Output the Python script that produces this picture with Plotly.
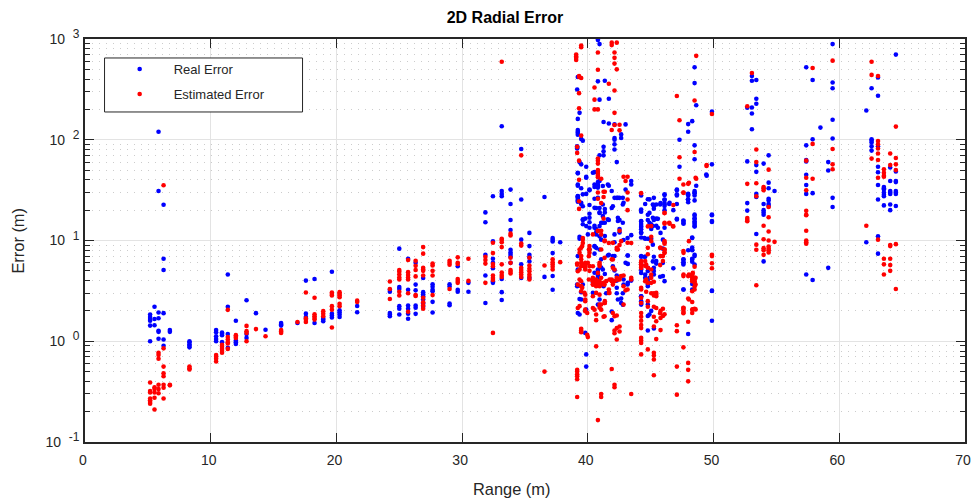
import plotly.graph_objects as go

real_ranges = [5.18, 5.53, 5.85, 6.25, 6.75, 8.31, 10.43, 10.9, 11.36, 12.0, 12.85, 13.6, 14.36, 15.6, 16.9, 17.57, 18.26, 18.95, 19.64, 20.25, 21.65,
               24.25, 25.0, 25.7, 26.3, 26.9, 27.65, 29.0, 29.65, 30.5, 31.85, 32.45, 33.15, 33.85, 34.7, 35.35, 36.55, 37.2, 37.8]
real_errors = [
    [1.84, 1.74, 1.66, 1.6, 1.43, 1.0], [2.2, 1.66, 1.44], [120, 31, 1.93, 1.69, 1.27, 1.24, 1.06], [22.6, 6.6, 5.1, 1.9, 1.04, 0.9],
    [1.29, 1.24], [1.0, 0.97, 0.93, 0.9, 0.87], [1.29, 1.23, 1.12, 1.05, 1.0], [1.22, 1.19, 1.15, 0.98], [4.6, 2.2, 1.18, 0.86],
    [1.6, 1.02, 0.98, 0.94], [2.55, 1.18, 1.08], [1.9], [1.3], [1.52, 1.47, 1.43], [1.52], [4.0, 1.88, 1.74], [4.15, 1.52],
    [1.7, 1.64, 1.58], [4.9, 1.88, 1.8, 1.72], [2.03, 1.94, 1.84, 1.74], [2.24, 1.94],
    [3.25, 3.1, 1.91, 1.84, 1.77], [8.3, 3.46, 3.3, 2.23, 2.1, 1.84], [6.6, 3.25, 2.26, 2.1, 1.88, 1.67], [6.0, 3.65, 3.2, 2.26, 2.15, 1.87],
    [4.25, 3.07, 2.93, 2.8, 2.6, 2.37, 2.2], [3.68, 3.47, 3.25, 3.14, 2.46, 1.93], [3.68, 3.5, 2.37, 2.28], [5.55, 3.25, 3.1], [3.8, 3.1],
    [19, 15.2, 7.2, 4.5, 2.4], [27.5, 9.8, 6.6, 6.0, 5.3, 3.95, 3.8], [136, 31, 29, 27.5, 4.15, 3.07, 2.57], [32, 23, 16, 12.7, 8.1, 7.6, 7.25, 6.9, 6.0],
    [81, 25.5, 10.2, 5.8, 4.25], [11.9, 8.8, 7.2, 6.8, 6.2, 4.25], [27, 4.35], [10.6, 10.2, 9.8, 7.5, 4.45, 3.25], [9.6],
]
real_ranges_b = [39.15, 39.2, 39.34, 39.47, 39.6, 39.79, 39.87, 40.0, 40.13, 40.4, 40.53, 40.66, 40.8, 40.93, 41.06, 41.25, 41.35, 41.46, 41.67, 41.9, 42.12, 42.3, 42.52, 42.65, 42.84, 43.0, 43.16, 43.45]
real_errors_b = [
    [315, 86, 84, 82, 3.66, 3.52], [420, 161, 125, 120, 117, 112, 47, 36, 35, 27.5, 26.8, 26, 25, 24.3, 5.16], [185, 60, 10.9, 10.4, 2.63, 1.84],
    [102, 57, 33, 23, 3.07], [98, 3.66, 16, 14.5], [16.5, 1.21], [54, 42, 29, 0.74, 0.56], [11.5], [32, 22.5, 18.4, 15.2],
    [47, 4.1, 3.02, 3.8], [34, 26, 14, 8.7, 7.4, 4.78], [21, 13, 12, 11.5, 8.45], [980, 380, 38, 36, 35, 33.5, 26.5, 5.16, 4.97, 4.78, 4.6, 4.43, 4.26, 2.31],
    [890, 250, 70, 21, 19, 11, 2.6, 8.15], [15, 10.2, 6.5, 5.4], [150, 85, 77, 70, 3.52], [385, 20.5, 19, 15, 11.1, 4.65], [3.0],
    [255, 145, 35, 16, 7.2], [31, 21, 1.97, 1.62], [142, 104, 100, 90, 80, 26.5, 5.05, 9.6, 7.0, 11.5], [60, 26.5, 4.0, 3.0, 3.4, 4.5], [26.5, 16, 12, 13],
    [113, 104, 2.65, 2.4], [23.7, 10.1, 3.66, 4.1], [142, 32, 6.0], [7.1, 3.66, 10.6], [39, 36, 11.3, 4.0],
]
real_ranges_c = [44.24, 44.56, 44.77, 45.04, 45.25, 45.44, 45.78, 45.97, 46.1, 46.47, 46.8, 47.08, 47.29, 47.6, 47.98, 48.3, 48.49, 48.62,
                 49.45, 49.87, 52.68, 53.05, 53.4, 53.98, 54.38, 54.85, 57.37, 57.88, 58.5, 59.12, 59.47, 62.15, 62.57, 63.08, 63.55, 64.05, 64.5]
real_errors_c = [
    [28, 19.3, 15.4, 14.6, 13.6, 12, 10.7, 6.9, 5.16, 5.78, 2.8, 2.5, 2.31], [23, 10.4, 6.9, 4.6, 4.26], [25.7, 18, 16, 10.4, 4.97, 5.36, 3.95, 3.66, 3.52, 2.31, 1.78, 1.28],
    [14.5, 13, 10.4, 2.0], [26.5, 22.5, 22, 20.7, 16, 6.9, 5.36, 4.97, 4.6, 1.34], [22.8, 16.5, 14, 6.25, 5.9], [23.5, 11.9], [10.2, 8.3, 6.0, 4.43], [28.3, 25.4, 23.5, 22, 20, 3.95],
    [23], [20, 5.3], [31.6, 28, 23, 16.2], [100, 54], [15.8, 14.9, 6.5, 6.1, 5.78, 3.26], [143, 120, 29, 28, 25.7, 24, 8, 1.18], [153, 10.7, 8.5, 8, 6.6, 6.15, 3.7],
    [365, 525, 88, 64, 31, 29.5, 25, 17.6, 16.5, 15.5, 14.6, 13.8, 7.2], [220, 35],
    [44], [190, 57, 17.8, 15.3, 3.15, 1.6], [208, 61, 23.5, 19.8], [430, 385, 209, 182, 127], [392, 255, 228, 56, 48, 29, 27, 11.6], [58, 23, 20, 19, 18, 6.2],
    [70, 37.5, 33, 26, 25, 23, 22], [31], [525, 88, 63, 61, 45, 35.5, 29, 4.6], [392, 101, 29.5, 4.05], [132], [60, 49.5, 5.35],
    [890, 370, 325, 158, 103, 26.5, 21.5], [195, 9.6], [325, 101, 98, 94, 86, 78], [415, 273, 86, 54, 47.5, 35.5, 25.5, 11, 7.4],
    [34, 33, 32, 30, 28.5, 27.5, 22.3], [53, 39, 31, 30, 29, 22.8, 20], [700, 48.5, 39, 38, 31, 30, 29, 22],
]
real_ranges_d = [39.2, 39.47, 39.6, 39.87, 40.13, 40.53, 40.93, 41.19, 41.59, 41.99, 42.39, 42.78, 43.18, 44.24, 44.5, 44.9, 45.17, 45.57, 45.75, 46.1, 46.5, 47.08, 47.61, 47.96, 48.3, 48.49, 49.42, 49.87]
real_errors_d = [
    [46.4, 27.6, 7, 1.91], [23.7, 2.6], [28.7, 16.2, 21.9], [42.8, 13.9, 2.06], [31.6, 16.8, 13.4, 8.14], [47.7, 35.9, 21.1, 8.8, 13.4], [38.9, 18.8, 13.9],
    [34.7, 22.8, 17.5, 15, 5.15, 3.65], [35.9, 16.2, 7.1], [21.9, 7, 5.56], [26.5, 15.6, 16.8, 2.6], [26.5, 22.8, 15, 2.3, 3], [7.1, 5.86, 3.8],
    [20.3, 15.6, 13.9, 12.9, 11.9, 7, 4.77, 2.8, 2.4], [10.6, 6.9], [25.6, 18.8, 10.4, 4.26, 1.84, 15], [22.8, 16.8, 9.1, 6.2, 13.9], [13.4, 16.4], [22.8, 4.36],
    [28.7, 25.5, 22.8, 13.4], [23.7], [32, 28.7, 16.4], [15.6, 14.7, 6.47, 6, 3.26], [28.7, 25.5], [10.6, 8.14, 6.47, 3.26], [30, 28, 18.1, 16.4, 15, 13.9, 7, 5.77], [45.2], [18.1, 15.6, 3.18],
]

est_ranges = [5.18, 5.53, 5.85, 6.25, 6.75, 8.31, 10.43, 10.9, 11.36, 12.0, 12.85, 13.6, 14.36, 15.6, 16.9, 17.57, 18.26, 18.95, 19.64, 20.25, 21.65,
              24.25, 25.0, 25.7, 26.3, 26.9, 27.65, 29.0, 29.65, 30.5, 31.85, 32.45, 33.15, 33.85, 34.7, 35.35, 36.55, 37.2, 37.8]
est_errors = [
    [0.39, 0.32, 0.31, 0.27, 0.26, 0.25, 0.24], [0.35, 0.335, 0.31, 0.275, 0.21], [0.77, 0.73, 0.67, 0.37, 0.335, 0.305], [35.4, 0.85, 0.56, 0.48, 0.45, 0.37, 0.345, 0.27],
    [0.37, 0.365], [0.56, 0.54, 0.525], [0.73, 0.70, 0.67, 0.63], [0.92, 0.88, 0.84, 0.8, 0.77], [2.05, 1.1, 1.04, 0.98, 0.95, 0.84],
    [1.15, 1.11, 1.08], [1.42, 1.26, 1.21, 1.0], [1.32], [1.12], [1.29, 1.25, 1.21], [1.55], [3.05, 1.69, 1.63, 1.55], [2.7, 1.85, 1.77, 1.7, 1.64],
    [1.99, 1.88, 1.77], [3.05, 2.95, 2.85, 2.23, 2.06, 1.37], [3.07, 2.95, 2.85, 2.74, 2.35, 2.23], [2.53, 2.45],
    [3.92, 3.3, 2.63], [5.1, 4.9, 4.6, 4.3, 4.1, 3.1, 2.85], [6.4, 4.85, 4.55, 4.3, 4.1, 3.0, 1.96], [6.3, 5.6, 5.1, 4.4, 2.88, 2.82],
    [8.6, 7.4, 5.35, 5.15, 5.0, 4.5, 2.7, 2.44, 2.26, 2.1], [5.9, 5.65, 5.0, 4.5, 2.87], [6.3, 6.0, 5.75, 3.3], [6.8, 6.0, 5.85, 4.15, 3.97, 3.8], [6.6, 3.97],
    [6.9, 6.4, 5.9, 3.8], [9.5, 7.5, 5.85, 5.55, 4.5, 4.25, 4.05, 1.21], [595, 10.4, 10.1, 9.6, 8.6, 5.8, 4.8, 4.55, 4.35], [11.7, 11.2, 6.75, 6.0, 5.1, 4.9, 4.7],
    [70, 9.35, 8.9, 5.35, 5.1, 4.85, 4.6, 4.35], [6.75, 5.65, 5.25, 4.95, 4.6, 4.35, 4.1], [5.65, 0.5], [6.5, 6.1, 5.8, 5.5, 5.15], [6.1],
]
est_ranges_b = [39.07, 39.15, 39.3, 39.34, 39.47, 39.55, 39.6, 39.79, 39.95, 40.0, 40.13, 40.4, 40.53, 40.66, 40.8, 40.93, 41.06, 41.25, 41.35, 41.46, 41.67, 41.9, 42.12, 42.3, 42.52, 42.65, 42.84, 43.0, 43.16, 43.45]
est_errors_b = [
    [700, 670, 650, 620], [5.9, 5.75, 0.52, 0.5, 0.47, 0.45, 0.42, 0.28, 85, 74], [430, 420, 290, 205, 62, 40, 24.5, 20.6], [8.15, 7.55, 5.16, 4.1, 2.23], [860, 830, 410, 110, 7.0, 6.5, 3.52, 3.14, 1.33, 1.28, 1.23],
    [8.8, 3.39], [10.6, 10.2, 9.45], [6.0, 5.78, 5.57, 5.36, 5.16, 2.9, 2.6, 2.5, 2.06, 1.99], [1.91, 1.16], [6.0, 1.1], [5.57, 8.8, 8.15, 7.55, 5.0],
    [11.5, 4.26, 3.95, 3.66], [330, 250, 200, 2.06], [4.1, 3.95, 3.8, 3.66, 3.52, 3.02, 1.84, 1.62, 0.89], [735, 495, 200, 65, 62, 58, 50, 48, 46, 44, 42.5, 30, 26, 12.5, 0.165],
    [6.0, 5.78, 5.57, 3.95, 3.8, 3.66, 3.52, 2.9, 2.31, 2.15], [41, 23.5, 12.5, 2.06, 0.3, 0.28], [30.5, 27, 16.5, 3.8, 3.66, 1.75], [30.5, 10, 2.4, 2.5], [3.95], [360, 9.45, 3.26, 3.02],
    [920, 870, 125, 4.1, 3.95, 6.5, 0.53], [735, 650, 570, 308, 185, 140, 5.16, 3.95, 1.77, 1.2, 1.28, 0.37, 0.35], [920, 500, 8.15, 8.45, 4.26, 4.1, 1.8, 1.35, 1.04], [141, 124, 4.1, 1.4, 1.25, 9, 12.5],
    [4.43], [43, 3.52, 2.31, 4.5], [39, 3.2], [43, 30, 25.5, 20, 9.5, 3.26], [0.3, 9.45, 4.26],
]
est_ranges_c = [44.24, 44.56, 44.77, 45.04, 45.25, 45.44, 45.78, 45.97, 46.1, 46.47, 46.8, 47.08, 47.29, 47.6, 47.98, 48.3, 48.49, 48.62, 49.44,
                49.45, 49.87, 52.68, 53.05, 53.4, 53.98, 54.38, 54.85, 57.37, 57.88, 59.47, 62.15, 62.57, 63.08, 63.55, 64.05, 64.5]
est_errors_c = [
    [29.5, 6.25, 6, 5.78, 5.57, 5.36, 3.4, 2.7, 1.75, 1.6, 1.45, 1.35, 1.08, 1.02, 0.96, 0.74], [6.25, 5.6, 3.95], [13.8, 8.45, 7.3, 5.36, 3.8, 2.5, 2.2, 0.83], [3.8, 3.0, 10.9, 9.85],
    [3.0, 2.85, 2.2, 1.75, 3.9, 0.77, 0.72, 0.66, 0.46, 1.4], [2.9, 2.8, 1.58, 1.05], [2.0, 1.7, 1.29, 8.45, 7.0], [7.0, 6.25, 2.1, 1.78], [18.7, 15, 9.6, 9.3, 8.15, 7.6],
    [15], [22.5, 13.8], [272, 1.44, 1.26, 0.56, 0.295], [156, 67, 41], [36, 30, 7.85, 4.43, 2.15, 2.05, 1.9, 0.87], [36.5, 4.43, 2.65, 1.56, 0.61, 0.52, 0.4],
    [4.6, 4.43, 4.26, 4.1, 3.95, 3.14, 2.06, 1.91, 2.45], [245, 75.5, 5.5, 4.26, 4.1, 3.95, 3.8, 3.5, 3.26, 2.1], [680, 41],
    [55],
    [56], [180, 7.2, 7.0, 5.95, 5.3], [215, 36.5, 16.7, 16, 15.5], [460], [80, 60, 37, 27.5, 9.1, 8.1, 3.6], [34, 33, 31.5, 14, 10.3, 8.4, 8, 7.2], [50.5, 21.5, 17, 12.3, 10, 8.7, 8.3, 8, 7.6], [9.7],
    [62, 42, 31.5, 19.7, 18, 17.8, 12.5, 10, 9.6, 9.3], [515, 91, 41], [610, 81, 57, 51], [14], [595, 440, 65], [430, 97, 90, 82, 73, 63, 42, 10.2], [51, 47, 44, 43, 6.6, 5.8, 4.6],
    [73, 56, 9, 8.8, 6.6, 5.7, 5], [135, 66, 57, 50, 9.2, 3.3],
]
est_ranges_d = [39.2, 39.47, 39.73, 40.08, 40.4, 40.8, 41.06, 41.33, 41.72, 41.99, 42.39, 42.65, 43.45, 44.24, 44.64, 45.04, 45.44, 45.75, 46.1, 46.5, 46.76, 47.61, 48.04, 48.35, 48.57]
est_errors_d = [
    [3.65, 4.96, 2.14], [3.94, 3.52, 5.99, 8.45, 5.56], [5.56, 5.77, 3.02], [4.1, 8.14, 6.99], [3.94, 4.1, 3.65, 5.56, 2.8, 2.14], [3.94, 3.65, 12.4, 4.77],
    [4.26, 11.5, 8.14, 2.32], [3.65, 6.73, 9.85, 2.4, 1.77], [4.1, 3.02], [3.65, 6.47, 9.48, 5.35, 1.91], [4.1, 8.14], [4.42, 9.85], [4.1],
    [5.77, 5.35, 3.26, 1.91, 2.4], [5.77, 4.1, 3.94, 3.1], [5.15, 4.6, 4.26, 13.9], [3.02, 2.14], [8.45, 1.9, 5.7], [8.14, 7.54, 9.9, 14.7, 18.8, 1.85],
    [14.7], [13.9], [7.54, 4.6, 2.14, 1.95, 29.7], [9.85, 4.6, 2.6, 37.4], [4.77, 2.07], [4.26, 3.65, 2.07, 42],
]
legend_names = ["Real Error", "Estimated Error"]
x_tick_values = [0, 10, 20, 30, 40, 50, 60, 70]
y_tick_values = [0.1, 1, 10, 100, 1000]
y_tick_exponents = ["-1", "0", "1", "2", "3"]
y_tick_labels = [f'10\u00a0\u00a0<sup><span style="font-size:12px">{e}</span></sup>' for e in y_tick_exponents]
y_minor_values = [m * d for d in (0.1, 1, 10, 100) for m in range(2, 10)]


def expand(ranges, errors):
    xs, ys = [], []
    for r, col in zip(ranges, errors):
        for e in col:
            xs.append(r)
            ys.append(e)
    return xs, ys


rx, ry = expand(real_ranges + real_ranges_b + real_ranges_c + real_ranges_d,
                real_errors + real_errors_b + real_errors_c + real_errors_d)
ex, ey = expand(est_ranges + est_ranges_b + est_ranges_c + est_ranges_d,
                est_errors + est_errors_b + est_errors_c + est_errors_d)

FONT = "Liberation Sans, Arial, sans-serif"
INK = "#262626"

fig = go.Figure()
fig.add_trace(go.Scatter(x=rx, y=ry, mode="markers", name=legend_names[0], legendgroup="a",
                         marker=dict(color="#0000ff", size=4.6, line=dict(width=0))))
fig.add_trace(go.Scatter(x=ex, y=ey, mode="markers", name=legend_names[1], legendgroup="b",
                         marker=dict(color="#ff0000", size=4.6, line=dict(width=0))))

fig.update_layout(
    width=971, height=501, autosize=False,
    margin=dict(l=85, r=5.5, t=39, b=59, pad=0),
    paper_bgcolor="white", plot_bgcolor="white",
    font=dict(family=FONT, size=14, color=INK),
    title=dict(text="<b>2D Radial Error</b>", x=0.52, xanchor="center", y=0.966, yanchor="middle",
               font=dict(family=FONT, size=16, color="#000000")),
    shapes=[dict(type="rect", xref="paper", yref="paper", x0=0.0222, x1=0.2472, y0=0.8189, y1=0.9529,
                 fillcolor="white", line=dict(color=INK, width=1), layer="above")],
    legend=dict(x=0.0235, y=0.9625, xanchor="left", yanchor="top", bgcolor="rgba(0,0,0,0)", borderwidth=0,
                traceorder="grouped", tracegroupgap=5, itemwidth=58, entrywidth=169, entrywidthmode="pixels",
                font=dict(family=FONT, size=13, color=INK)),
    annotations=[dict(text="Range (m)", xref="paper", yref="paper", x=0.485, y=-0.1166, xanchor="center", yanchor="middle",
                      showarrow=False, font=dict(family=FONT, size=16.4, color=INK)),
                 dict(text="Error (m)", xref="paper", yref="paper", x=-0.0772, y=0.5, xanchor="center", yanchor="middle",
                      textangle=-90, showarrow=False, font=dict(family=FONT, size=16.4, color=INK))],
    xaxis=dict(range=[0, 70], tickvals=x_tick_values, ticks="inside", ticklen=9, tickcolor=INK, tickwidth=1,
               showline=True, linecolor=INK, linewidth=1.5, mirror="ticks", showgrid=True, gridcolor="#e3e3e3", gridwidth=1,
               zeroline=False, tickfont=dict(family=FONT, size=14, color=INK), ticklabelstandoff=4,
               ticklabeloverflow="allow", ticklabelshift=-2, automargin=False),
    yaxis=dict(type="log", range=[-1, 3], tickmode="array", tickvals=y_tick_values, ticktext=y_tick_labels,
               ticks="inside", ticklen=9, tickcolor=INK, tickwidth=1, showline=True, linecolor=INK, linewidth=1.5, mirror="ticks",
               showgrid=True, gridcolor="#e3e3e3", gridwidth=1, zeroline=False, tickfont=dict(family=FONT, size=14, color=INK),
               ticklabelstandoff=1, automargin=False,
               minor=dict(tickmode="array", tickvals=y_minor_values, ticks="inside", ticklen=5, tickcolor=INK, showgrid=True,
                          gridcolor="#cccccc", griddash="1px,6px", gridwidth=1)),
)
fig.write_html("out.html", config=dict(displayModeBar=False),
               post_script="document.body.style.margin='0';document.documentElement.style.overflow='hidden';")
